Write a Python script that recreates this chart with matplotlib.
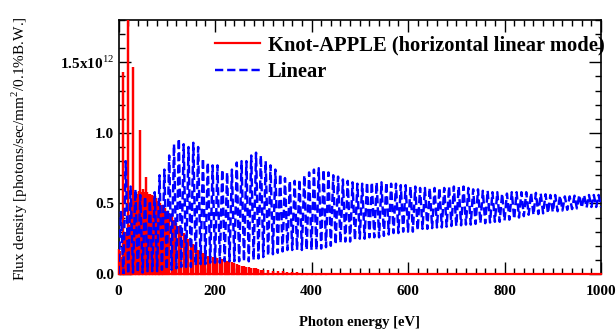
import numpy as np
import matplotlib
matplotlib.use("Agg")
import matplotlib.pyplot as plt
from matplotlib.ticker import MultipleLocator, FixedLocator

plt.rcParams['font.family'] = ['Liberation Serif', 'DejaVu Serif']
plt.rcParams['mathtext.fontset'] = 'custom'
plt.rcParams['mathtext.rm'] = 'Liberation Serif'
plt.rcParams['mathtext.bf'] = 'Liberation Serif:bold'

# ---------------- data (flux in units of 1e12) ----------------
# Linear undulator: troughs (at 0, 10, ..., 1000 eV) and peaks (at 5, 15, ..., 995 eV)
blue_trough_energy = np.arange(0, 1001, 10)
blue_trough = [
    0.00, 0.00, 0.00, 0.01, 0.01, 0.01, 0.02, 0.02, 0.02, 0.03,
    0.03, 0.03, 0.04, 0.05, 0.05, 0.05, 0.06, 0.07, 0.07, 0.08,
    0.08, 0.08, 0.09, 0.09, 0.09, 0.09, 0.09, 0.09, 0.10, 0.11,
    0.12, 0.13, 0.14, 0.15, 0.16, 0.17, 0.17, 0.17, 0.17, 0.17,
    0.17, 0.17, 0.18, 0.19, 0.20, 0.21, 0.22, 0.23, 0.23, 0.24,
    0.25, 0.25, 0.26, 0.26, 0.26, 0.27, 0.28, 0.29, 0.29, 0.30,
    0.30, 0.30, 0.31, 0.32, 0.32, 0.325, 0.33, 0.33, 0.335, 0.34,
    0.34, 0.345, 0.35, 0.35, 0.355, 0.36, 0.36, 0.365, 0.37, 0.37,
    0.38, 0.385, 0.39, 0.40, 0.41, 0.42, 0.42, 0.425, 0.43, 0.43,
    0.44, 0.445, 0.45, 0.455, 0.46, 0.465, 0.47, 0.47, 0.475, 0.475,
    0.475]
blue_peak_energy = np.arange(5, 1000, 10)
blue_peak = [
    0.44, 0.80, 0.62, 0.60, 0.56, 0.55, 0.52, 0.58, 0.70, 0.74,
    0.84, 0.92, 0.96, 0.92, 0.90, 0.93, 0.90, 0.82, 0.79, 0.77,
    0.77, 0.74, 0.72, 0.74, 0.79, 0.80, 0.80, 0.84, 0.86, 0.84,
    0.80, 0.77, 0.74, 0.71, 0.68, 0.66, 0.66, 0.67, 0.70, 0.72,
    0.74, 0.75, 0.74, 0.72, 0.70, 0.69, 0.67, 0.66, 0.65, 0.64,
    0.64, 0.65, 0.65, 0.65, 0.65, 0.65, 0.64, 0.64, 0.63, 0.63,
    0.62, 0.62, 0.61, 0.61, 0.61, 0.61, 0.61, 0.61, 0.62, 0.62,
    0.62, 0.62, 0.61, 0.60, 0.60, 0.59, 0.59, 0.58, 0.58, 0.57,
    0.57, 0.58, 0.58, 0.58, 0.58, 0.575, 0.575, 0.57, 0.565, 0.56,
    0.56, 0.555, 0.55, 0.55, 0.555, 0.56, 0.56, 0.56, 0.56, 0.56]

# Knot-APPLE (horizontal linear mode): peak heights of the dense lines
red_energy = [0, 3, 6, 9, 12, 15, 20, 23, 26, 28, 31, 34, 37, 40, 42, 45, 48, 51,
              54, 57, 60, 63, 66, 69, 72, 75, 78, 81, 84, 87, 90, 93, 96, 100,
              105, 110, 115, 120, 125, 130, 135, 140, 145, 150, 155, 160, 165,
              170, 175, 180, 185, 190, 195, 200, 205, 210, 215, 220, 225, 230,
              235, 240, 245, 250, 255, 260, 265, 270, 275, 280, 285, 290, 295,
              300, 310, 320, 330, 340, 350, 360, 370, 380, 390, 400, 410, 420,
              430, 440, 450, 500, 1000]
red_peak = [0.18, 0.16, 0.12, 1.43, 0.25, 0.30, 1.80, 0.35, 0.45, 0.50, 1.47, 0.55,
            0.58, 0.57, 0.59, 1.02, 0.58, 0.60, 0.58, 0.69, 0.58, 0.57, 0.57, 0.56,
            0.55, 0.55, 0.54, 0.52, 0.52, 0.50, 0.49, 0.48, 0.47, 0.45,
            0.43, 0.41, 0.38, 0.36, 0.34, 0.31, 0.29, 0.27, 0.25, 0.23, 0.21,
            0.19, 0.17, 0.16, 0.15, 0.14, 0.13, 0.13, 0.12, 0.12, 0.11, 0.11,
            0.105, 0.10, 0.095, 0.09, 0.085, 0.08, 0.07, 0.065, 0.06, 0.055,
            0.05, 0.05, 0.045, 0.04, 0.04, 0.035, 0.03, 0.03, 0.025, 0.02, 0.02,
            0.018, 0.015, 0.015, 0.012, 0.01, 0.01, 0.008, 0.006, 0.005, 0.004,
            0.003, 0.002, 0.0, 0.0]

ytick_vals = [0.0, 0.5, 1.0, 1.5]
ytick_labels = ['0.0', '0.5', '1.0', r'1.5x10$^{12}$']
xtick_vals = [0, 200, 400, 600, 800, 1000]

# ---------------- figure ----------------
fig = plt.figure(figsize=(6.16, 3.34), dpi=100)
ax = fig.add_axes([0.1924, 0.1796, 0.7833, 0.7605])

# red: vertical strokes up from the baseline
re = np.asarray(red_energy, float)
rp = np.asarray(red_peak, float)
rx = np.repeat(re, 3)
ry = np.column_stack([np.zeros_like(rp), rp, np.zeros_like(rp)]).ravel()
ax.plot(rx, ry, color='#ff0000', lw=1.6, solid_joinstyle='miter',
        label='Knot-APPLE (horizontal linear mode)', zorder=3, clip_on=False)

# blue: zig-zag alternating trough / peak
te = np.asarray(blue_trough_energy, float)
tv = np.asarray(blue_trough, float)
pe = np.asarray(blue_peak_energy, float)
pv = np.asarray(blue_peak, float)
bx = np.empty(te.size + pe.size)
by = np.empty_like(bx)
bx[0::2], by[0::2] = te, tv
bx[1::2], by[1::2] = pe, pv
ax.plot(bx, by, color='#0000ff', lw=1.75, dashes=(3.4, 1.6),
        label='Linear', zorder=3.5)

ax.set_xlim(0, 1000)
ax.set_ylim(0, 1.8)

ax.xaxis.set_major_locator(FixedLocator(xtick_vals))
ax.xaxis.set_minor_locator(MultipleLocator(20))
ax.yaxis.set_major_locator(FixedLocator(ytick_vals))
ax.yaxis.set_minor_locator(MultipleLocator(0.1))
ax.set_yticklabels(ytick_labels)

ax.tick_params(which='both', direction='in', top=True, right=True, width=1.0,
               colors='black')
ax.tick_params(which='major', length=8.5)
ax.tick_params(which='minor', length=4)
ax.tick_params(axis='x', which='major', pad=8, labelsize=11)
ax.tick_params(axis='y', which='major', pad=3, labelsize=11)
for lab in ax.get_xticklabels() + ax.get_yticklabels():
    lab.set_fontweight('bold')
for sp in ax.spines.values():
    sp.set_linewidth(1.2)

leg = ax.legend(loc='upper left', bbox_to_anchor=(0.199, 0.939), frameon=False,
                prop={'family': 'Liberation Serif', 'weight': 'bold', 'size': 14.8},
                handlelength=2.2, handletextpad=0.4, labelspacing=0.32,
                borderaxespad=0, borderpad=0)

fig.text(0.584, 0.033, 'Photon energy [eV]', ha='center', va='center',
         fontsize=10.5, fontweight='bold')
fig.text(0.032, 0.556, r'Flux density [photons/sec/mm$^{2}$/0.1%B.W.]',
         rotation=90, ha='center', va='center', fontsize=11)

fig.savefig('out.png', dpi=100)
